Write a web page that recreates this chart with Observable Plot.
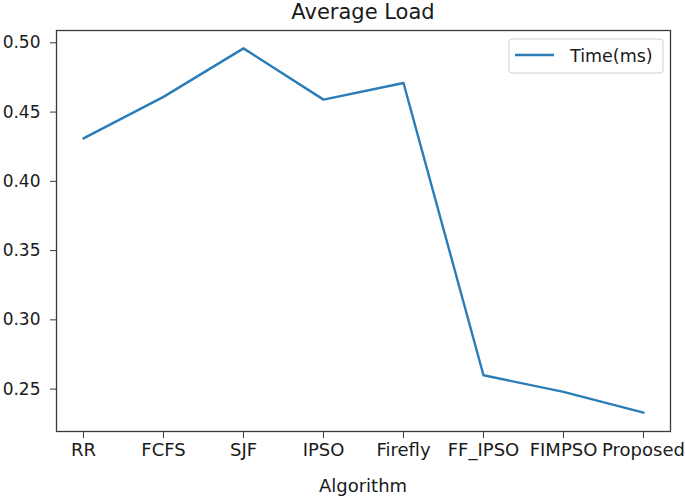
<!DOCTYPE html>
<html>
<head>
<meta charset="utf-8">
<script src="https://cdn.jsdelivr.net/npm/d3@7"></script>
<script src="https://cdn.jsdelivr.net/npm/@observablehq/plot@0.6"></script>
<style>
  html, body { margin: 0; padding: 0; background: #fff; }
  #chart { width: 685px; height: 500px; }
  svg { font-family: "DejaVu Sans", sans-serif; }
</style>
</head>
<body>
<div id="chart"></div>
<script>
const algorithms = ["RR", "FCFS", "SJF", "IPSO", "Firefly", "FF_IPSO", "FIMPSO", "Proposed"];
const timeMs = [0.431, 0.461, 0.496, 0.459, 0.471, 0.260, 0.248, 0.233];
const yTicks = [0.25, 0.30, 0.35, 0.40, 0.45, 0.50];
const titleText = "Average Load";
const xLabel = "Algorithm";
const seriesName = "Time(ms)";

const data = algorithms.map((a, i) => ({algorithm: a, value: timeMs[i]}));
const lineColor = "#2a7db8";
const textColor = "#1a1a1a";

const W = 685, H = 500;
const mL = 56, mR = 15, mT = 30, mB = 69;

const chart = Plot.plot({
  width: W,
  height: H,
  marginLeft: mL,
  marginRight: mR,
  marginTop: mT,
  marginBottom: mB,
  style: {fontFamily: "DejaVu Sans, sans-serif", color: textColor, background: "#fff"},
  x: {type: "point", domain: algorithms, padding: 0.326, align: 0.5},
  y: {domain: [0.2194, 0.5089]},
  marks: [
    Plot.frame({stroke: "#3a3a3a", strokeWidth: 1.3}),
    Plot.axisY({ticks: yTicks, tickFormat: d3.format(".2f"), tickSize: 6, tickPadding: 10, fontSize: 17, label: null, stroke: "#3a3a3a"}),
    Plot.axisX({tickSize: 7, tickPadding: 5, fontSize: 18, label: null, stroke: "#3a3a3a"}),
    Plot.line(data, {x: "algorithm", y: "value", stroke: lineColor, strokeWidth: 2.4})
  ]
});

document.getElementById("chart").appendChild(chart);

const svg = d3.select(chart);
// Title
svg.append("text")
  .attr("x", (mL + W - mR) / 2)
  .attr("y", 19)
  .attr("text-anchor", "middle")
  .attr("font-size", 21)
  .attr("fill", textColor)
  .text(titleText);
// X axis label
svg.append("text")
  .attr("x", (mL + W - mR) / 2)
  .attr("y", 492)
  .attr("text-anchor", "middle")
  .attr("font-size", 18)
  .attr("fill", textColor)
  .text(xLabel);
// Legend
const lg = svg.append("g");
lg.append("rect")
  .attr("x", 509).attr("y", 39).attr("width", 154).attr("height", 34)
  .attr("rx", 3).attr("fill", "#fff").attr("fill-opacity", 0.8)
  .attr("stroke", "#d0d0d0");
lg.append("line")
  .attr("x1", 515).attr("x2", 554).attr("y1", 55).attr("y2", 55)
  .attr("stroke", lineColor).attr("stroke-width", 2.4);
lg.append("text")
  .attr("x", 570).attr("y", 61.5)
  .attr("text-anchor", "start")
  .attr("font-size", 17.5)
  .attr("fill", textColor)
  .text(seriesName);
</script>
</body>
</html>
